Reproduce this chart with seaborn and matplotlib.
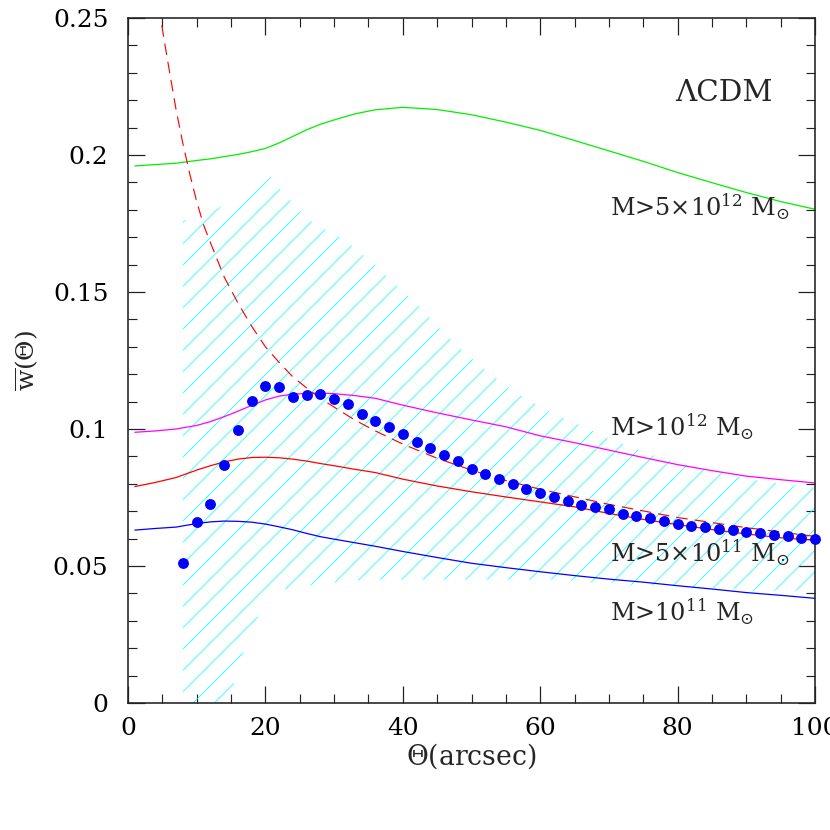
import numpy as np
import pandas as pd
import matplotlib
matplotlib.use('Agg')
import matplotlib.pyplot as plt
from matplotlib.ticker import MultipleLocator
import seaborn as sns

# --- data (theta in arcsec) ---
theta_model = [1, 4, 7, 10, 12, 14, 16, 18, 20, 22, 24, 26, 28, 30, 33, 36, 40,
               45, 50, 55, 60, 65, 70, 75, 80, 85, 90, 95, 100]
w_5e12 = [0.1960, 0.1965, 0.1970, 0.1980, 0.1986, 0.1994, 0.2002, 0.2012, 0.2024,
          0.2044, 0.2068, 0.2092, 0.2112, 0.2128, 0.2150, 0.2165, 0.2174, 0.2166,
          0.2147, 0.2120, 0.2090, 0.2053, 0.2015, 0.1977, 0.1936, 0.1899, 0.1863,
          0.1830, 0.1802]
w_1e12 = [0.0988, 0.0993, 0.1000, 0.1013, 0.1027, 0.1045, 0.1065, 0.1086, 0.1106,
          0.1120, 0.1127, 0.1130, 0.1131, 0.1129, 0.1122, 0.1112, 0.1087, 0.1059,
          0.1033, 0.1008, 0.0975, 0.0950, 0.0923, 0.0896, 0.0870, 0.0848, 0.0828,
          0.0815, 0.0803]
w_5e11 = [0.0790, 0.0805, 0.0823, 0.0850, 0.0866, 0.0880, 0.0890, 0.0896, 0.0897,
          0.0895, 0.0890, 0.0883, 0.0874, 0.0866, 0.0853, 0.0841, 0.0817, 0.0792,
          0.0771, 0.0752, 0.0734, 0.0716, 0.0692, 0.0670, 0.0651, 0.0633, 0.0617,
          0.0603, 0.0594]
w_1e11 = [0.0631, 0.0637, 0.0642, 0.0655, 0.0661, 0.0664, 0.0663, 0.0660, 0.0653,
          0.0643, 0.0632, 0.0619, 0.0607, 0.0598, 0.0585, 0.0572, 0.0553, 0.0531,
          0.0510, 0.0494, 0.0479, 0.0465, 0.0452, 0.0441, 0.0428, 0.0416, 0.0403,
          0.0393, 0.0382]

# dashed red fit
theta_fit = [4.5, 5, 6, 7, 8, 9, 10, 11, 12, 14, 16, 18, 20, 22, 24, 26, 28, 30,
             33, 36, 40, 45, 50, 55, 60, 70, 80, 90, 100]
w_fit = [0.254, 0.246, 0.231, 0.2165, 0.204, 0.193, 0.183, 0.1745, 0.168, 0.1555,
         0.146, 0.1375, 0.130, 0.1243, 0.119, 0.115, 0.1112, 0.108, 0.1033, 0.0993,
         0.0945, 0.0893, 0.085, 0.0812, 0.078, 0.0725, 0.0677, 0.064, 0.0608]

# measured points
theta_obs = list(range(8, 101, 2))
w_obs = [0.0511, 0.0662, 0.0725, 0.0868, 0.0996, 0.1102, 0.1157, 0.1152, 0.1118,
         0.1124, 0.1127, 0.1108, 0.1090, 0.1055, 0.1030, 0.1006, 0.0980, 0.0951,
         0.0932, 0.0906, 0.0883, 0.0855, 0.0834, 0.0816, 0.0798, 0.0781, 0.0765,
         0.0753, 0.0736, 0.0724, 0.0714, 0.0707, 0.0690, 0.0684, 0.0674, 0.0665,
         0.0655, 0.0646, 0.0641, 0.0634, 0.0631, 0.0624, 0.0619, 0.0613, 0.0609,
         0.0603, 0.0599]

# hatched error band
theta_band = [8, 12, 14, 15, 16, 17, 18, 19, 20, 22, 24, 26, 28, 30, 32, 34, 36, 38,
              40, 43, 45, 49, 52, 56, 60, 63, 67, 70, 74, 78, 83, 87, 91, 100]
band_hi = [0.176, 0.179, 0.182, 0.184, 0.186, 0.188, 0.190, 0.192, 0.194, 0.188,
           0.1825, 0.177, 0.1735, 0.1715, 0.168, 0.164, 0.1595, 0.155, 0.150, 0.1434,
           0.1375, 0.128, 0.1215, 0.114, 0.108, 0.1045, 0.100, 0.0965, 0.0925, 0.089,
           0.0857, 0.0838, 0.0814, 0.0785]
band_lo = [0.0, 0.0, 0.0, 0.003, 0.013, 0.020, 0.026, 0.032, 0.035, 0.041,
           0.042, 0.043, 0.043, 0.044, 0.044, 0.045, 0.045, 0.045, 0.045, 0.045,
           0.045, 0.045, 0.045, 0.045, 0.045, 0.045, 0.044, 0.044, 0.043, 0.043,
           0.042, 0.042, 0.041, 0.041]

curve_names = ['5e12', '1e12', '5e11', '1e11']
curve_colors = ['#00ee00', '#ff00ff', '#ff0000', '#0000ff']
curve_labels = [r'M>5$\times$10$^{12}$ M$_{\odot}$', r'M>10$^{12}$ M$_{\odot}$',
                r'M>5$\times$10$^{11}$ M$_{\odot}$', r'M>10$^{11}$ M$_{\odot}$']
label_y = [0.181, 0.1007, 0.0547, 0.0332]

sns.set_theme(style='ticks')
plt.rcParams['font.family'] = ['DejaVu Serif']
plt.rcParams['mathtext.fontset'] = 'dejavuserif'
plt.rcParams['hatch.linewidth'] = 0.8
plt.rcParams['hatch.color'] = '#00ffff'

DPI = 64
fig = plt.figure(figsize=(830 / DPI, 830 / DPI), dpi=DPI)
ax = fig.add_axes([128 / 830, 127 / 830, 687 / 830, 685 / 830])

ax.fill_between(theta_band, band_lo, band_hi, facecolor='none', edgecolor='#00ffff',
                hatch='/', linewidth=0)

models = pd.DataFrame({'theta': theta_model * 4,
                       'w': w_5e12 + w_1e12 + w_5e11 + w_1e11,
                       'mass': np.repeat(curve_names, len(theta_model))})
sns.lineplot(data=models, x='theta', y='w', hue='mass', palette=curve_colors,
             hue_order=curve_names, lw=1.4, legend=False, sort=False, ax=ax)

sns.lineplot(x=theta_fit, y=w_fit, color='#ff0000', lw=1.3, ax=ax,
             dashes=False, sort=False)
ax.lines[-1].set_dashes([10, 6])

sns.scatterplot(x=theta_obs, y=w_obs, color='#0000ff', s=150, linewidth=0,
                ax=ax, zorder=5, clip_on=False)

for txt, y in zip(curve_labels, label_y):
    ax.text(70.2, y, txt, fontsize=27, va='center', ha='left')
ax.text(86.8, 0.2225, 'ΛCDM', fontsize=33, va='center', ha='center')

ax.set_xlim(0, 100)
ax.set_ylim(0, 0.25)
ax.xaxis.set_major_locator(MultipleLocator(20))
ax.xaxis.set_minor_locator(MultipleLocator(5))
ax.yaxis.set_major_locator(MultipleLocator(0.05))
ax.yaxis.set_minor_locator(MultipleLocator(0.01))
ax.set_yticks([0, 0.05, 0.1, 0.15, 0.2, 0.25])
ax.set_yticklabels(['0', '0.05', '0.1', '0.15', '0.2', '0.25'])
ax.tick_params(which='both', direction='in', top=True, right=True,
               colors='#222222', labelcolor='black', labelsize=28)
ax.tick_params(which='major', length=19, width=1.4)
ax.tick_params(which='minor', length=10, width=1.3)
ax.tick_params(axis='x', which='major', pad=16)
ax.tick_params(axis='y', which='major', pad=22)
for sp in ax.spines.values():
    sp.set_linewidth(1.8)
    sp.set_color('#222222')

ax.set_xlabel(r'$\Theta$(arcsec)', fontsize=30, labelpad=1)
ax.set_ylabel(r'$\overline{\mathrm{w}}(\Theta)$', fontsize=28, labelpad=14)

plt.savefig('out.png', dpi=DPI)
